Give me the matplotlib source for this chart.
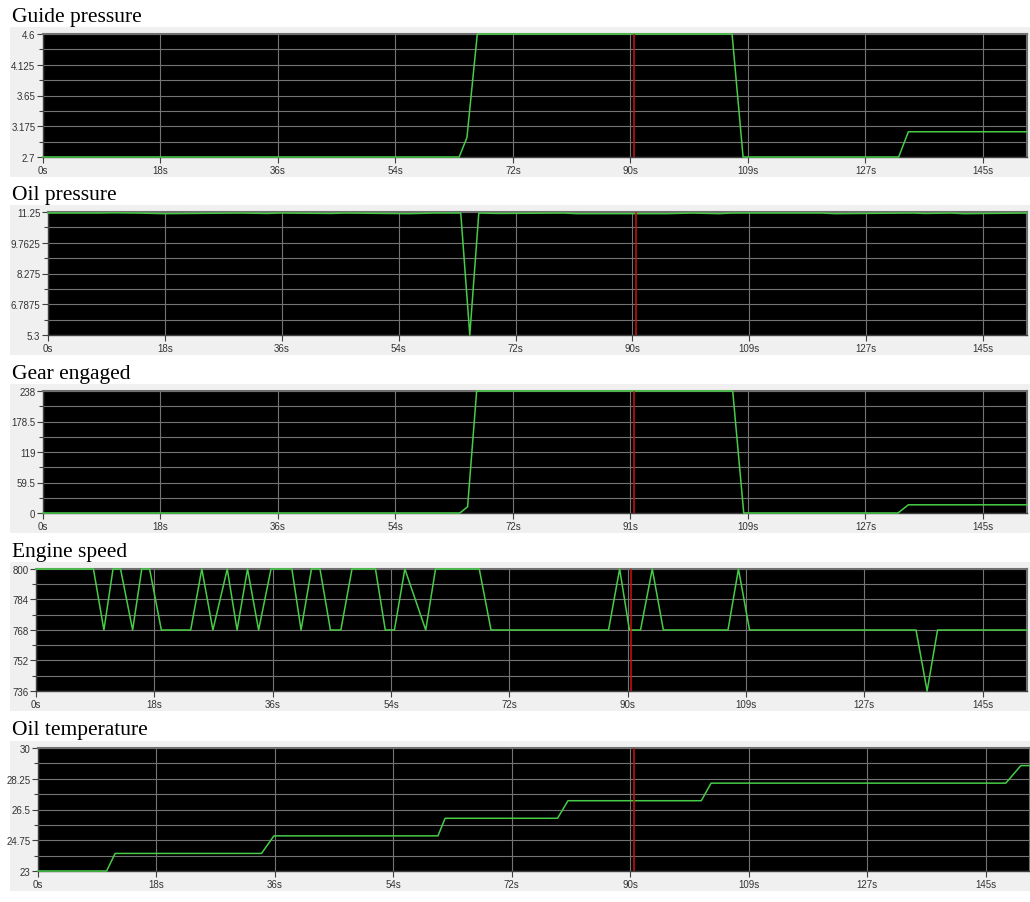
import matplotlib
matplotlib.use("Agg")
import matplotlib.pyplot as plt
from matplotlib.patches import Rectangle
from matplotlib.ticker import FixedLocator

# ---------------- data ----------------
titles = ["Guide pressure", "Oil pressure", "Gear engaged", "Engine speed", "Oil temperature"]

guide_t = [0, 64.2, 65.4, 67.0, 106.3, 108.0, 132.0, 133.5, 151.8]
guide_v = [2.7, 2.7, 3.0, 4.6, 4.6, 2.7, 2.7, 3.09, 3.09]

oilp_t = [0, 8, 10, 14, 18, 30, 34, 36, 44, 46, 56, 60, 64.0, 65.4, 66.8, 70, 80, 82,
          96, 100, 104, 106, 120, 122, 134, 136, 140, 142, 151.8]
oilp_v = [11.2, 11.2, 11.21, 11.2, 11.17, 11.2, 11.18, 11.2, 11.18, 11.2, 11.17, 11.2,
          11.2, 5.3, 11.2, 11.18, 11.2, 11.17, 11.17, 11.2, 11.17, 11.2, 11.2, 11.17,
          11.2, 11.18, 11.2, 11.17, 11.2]

gear_t = [0, 64.3, 65.5, 66.9, 106.4, 108.1, 131.1, 131.9, 133.5, 151.8]
gear_v = [0, 0, 12, 238, 238, 0, 0, 0, 16, 16]

engine_t = [0, 8.8, 10.4, 11.8, 12.95, 14.8, 16.2, 17.4, 19.2, 23.7, 25.4, 27.1, 29.3,
            30.8, 32.4, 34.1, 36.0, 39.2, 40.6, 42.2, 43.5, 45.1, 46.7, 48.4, 52.0,
            53.5, 54.9, 56.5, 59.7, 61.2, 67.9, 69.7, 87.7, 89.4, 90.9, 92.6, 94.4,
            96.1, 106.0, 107.6, 109.3, 134.8, 136.5, 138.1, 151.8]
engine_v = [800, 800, 768, 800, 800, 768, 800, 800, 768, 768, 800, 768, 800,
            768, 800, 768, 800, 800, 768, 800, 800, 768, 768, 800, 800,
            768, 768, 800, 768, 800, 800, 768, 768, 800, 768, 768, 800,
            768, 768, 800, 768, 768, 736, 768, 768]

temp_t = [0, 10.5, 11.8, 34.2, 36.1, 61.2, 62.3, 79.5, 81.1, 101.5, 103.0, 148.1, 150.4, 152.5]
temp_v = [23, 23, 24, 24, 25, 25, 26, 26, 27, 27, 28, 28, 29, 29]

series_t = [guide_t, oilp_t, gear_t, engine_t, temp_t]
series_v = [guide_v, oilp_v, gear_v, engine_v, temp_v]

ytick_vals = [
    [2.7, 3.175, 3.65, 4.125, 4.6],
    [5.3, 6.7875, 8.275, 9.7625, 11.25],
    [0, 59.5, 119, 178.5, 238],
    [736, 752, 768, 784, 800],
    [23, 24.75, 26.5, 28.25, 30],
]
ytick_labels = [
    ["2.7", "3.175", "3.65", "4.125", "4.6"],
    ["5.3", "6.7875", "8.275", "9.7625", "11.25"],
    ["0", "59.5", "119", "178.5", "238"],
    ["736", "752", "768", "784", "800"],
    ["23", "24.75", "26.5", "28.25", "30"],
]
xtick_vals = [0, 18.125, 36.25, 54.375, 72.5, 90.625, 108.75, 126.875, 145.0]
xtick_labels = [
    ["0s", "18s", "36s", "54s", "72s", "90s", "109s", "127s", "145s"],
    ["0s", "18s", "36s", "54s", "72s", "90s", "109s", "127s", "145s"],
    ["0s", "18s", "36s", "54s", "72s", "91s", "109s", "127s", "145s"],
    ["0s", "18s", "36s", "54s", "72s", "90s", "109s", "127s", "145s"],
    ["0s", "18s", "36s", "54s", "72s", "90s", "109s", "127s", "145s"],
]
cursor_t = 91.2
x_max = 151.8

# ---------------- layout (pixels) ----------------
W, H = 1030, 903
# (left, right, top, bottom) of the black plot area
boxes = [
    (43, 1027, 35, 158),
    (48, 1027, 213, 336),
    (43, 1027, 392, 514),
    (36, 1027, 570, 692),
    (38, 1030, 749, 872),
]
title_y = [22, 200, 379, 557, 735]

fig = plt.figure(figsize=(W / 100, H / 100), dpi=100)
fig.patch.set_facecolor("white")

for i in range(5):
    l, r, t, b = boxes[i]
    # light grey panel background
    fig.patches.append(Rectangle((10 / W, 1 - (b + 20) / H), (W - 10) / W, (b - t + 27) / H,
                                 transform=fig.transFigure, facecolor="#f0f0f0",
                                 edgecolor="none", zorder=-5))
    ax = fig.add_axes([l / W, 1 - b / H, (r - l) / W, (b - t) / H])
    ax.set_zorder(2)
    ax.set_facecolor("black")
    ax.plot(series_t[i], series_v[i], color="#46cc46", lw=1.1, zorder=3, clip_on=False)
    ax.axvline(cursor_t, color="#d01010", lw=1.1, zorder=4)
    yv = ytick_vals[i]
    ax.set_ylim(yv[0], yv[-1])
    ax.set_xlim(0, x_max)
    ax.set_yticks(yv)
    ax.set_yticklabels(ytick_labels[i])
    step = (yv[-1] - yv[0]) / 8
    ax.yaxis.set_minor_locator(FixedLocator([yv[0] + step * k for k in range(1, 8, 2)]))
    ax.set_xticks(xtick_vals)
    ax.set_xticklabels(xtick_labels[i])
    ax.grid(True, which="both", axis="y", color="#747474", lw=0.8)
    ax.grid(True, which="major", axis="x", color="#747474", lw=0.8)
    ax.tick_params(axis="both", which="major", length=4, width=0.8, color="#404040",
                   labelsize=7, labelcolor="#333333", pad=1.5)
    ax.tick_params(axis="y", which="minor", length=3, width=0.8, color="#404040")
    for lab in ax.get_xticklabels() + ax.get_yticklabels():
        lab.set_fontfamily("Liberation Sans")
    for s in ["left", "bottom"]:
        ax.spines[s].set_color("#404040")
        ax.spines[s].set_linewidth(1.0)
    for s in ["top", "right"]:
        ax.spines[s].set_color("#707070")
        ax.spines[s].set_linewidth(1.5)
    fig.text(12 / W, 1 - title_y[i] / H, titles[i], fontsize=15.5,
             fontfamily="Liberation Serif", color="black", va="baseline", ha="left",
             zorder=3)

fig.savefig("out.png", dpi=100)
